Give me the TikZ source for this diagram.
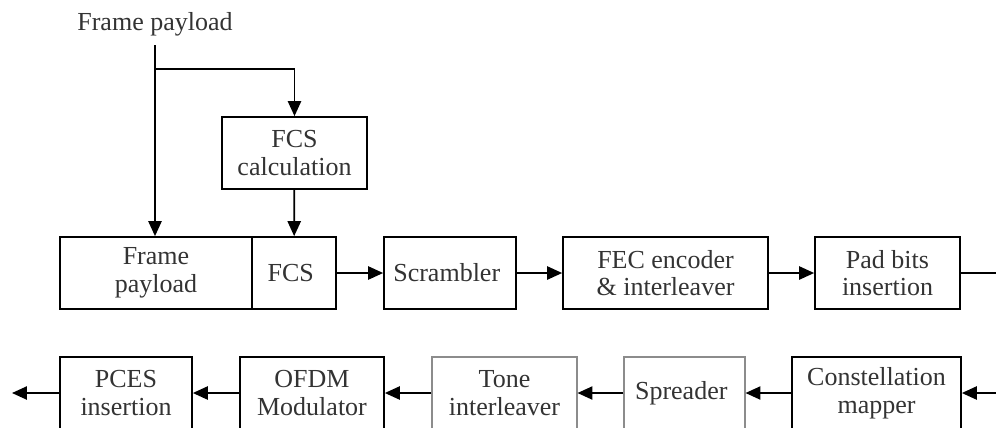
\documentclass[tikz,border=0pt]{standalone}
\usepackage{fontspec}
\setmainfont{Liberation Serif}
\usetikzlibrary{arrows.meta}

\begin{document}
\begin{tikzpicture}[x=0.02cm,y=-0.02cm,
    font=\fontsize{14.8}{15.8}\selectfont,
    blk/.style={draw,line width=1pt,align=center,minimum height=1.44cm,inner sep=0pt,text=black!80},
    dim/.style={blk,draw=black!45,line width=0.6pt},
    flow/.style={-{Triangle[length=8.5pt,width=7.5pt]},line width=1pt}]
            \useasboundingbox (0,0) rectangle (996,427);
            \clip (0,0) rectangle (996,427);

            \coordinate (A) at (155, 45);
            \coordinate (J) at (155, 69);
            \coordinate (R1) at (996, 273);
            \coordinate (R2) at (996, 393);
            \coordinate (L2) at (12, 393);

            \node[text=black!80] (IN) at (155, 24) { Frame payload };
            \node[blk,minimum width=2.9cm] (CALC) at (294.5, 153) { FCS\\calculation };

            % top row
            \node[blk,minimum width=3.84cm] (FP) at (156, 273) { Frame\\payload };
            \node[blk,minimum width=1.68cm] (FCS) at (294, 273) { FCS };
            \node[blk,minimum width=2.64cm] (SCR) at (450, 273) { Scrambler };
            \node[blk,minimum width=4.1cm] (FEC) at (665.5, 273) { FEC encoder\\\& interleaver };
            \node[blk,minimum width=2.9cm] (PAD) at (887.5, 273) { Pad bits\\insertion };

            % bottom row
            \node[blk,minimum width=2.64cm] (PCES) at (126, 393) { PCES\\insertion };
            \node[blk,minimum width=2.88cm] (OFDM) at (312, 393) { OFDM\\Modulator };
            \node[dim,minimum width=2.9cm] (TONE) at (504.5, 393) { Tone\\interleaver };
            \node[dim,minimum width=2.42cm] (SPR) at (684.5, 393) { Spreader };
            \node[blk,minimum width=3.38cm] (MAP) at (876.5, 393) { Constellation\\mapper };

            \draw[flow] (A) -- (FP.north -| A);
            \draw[flow] (J) -| (CALC.north);
            \draw[flow] (CALC) -- (FCS);
            \draw[flow] (FCS) -- (SCR);
            \draw[flow] (SCR) -- (FEC);
            \draw[flow] (FEC) -- (PAD);
            \draw[line width=1pt] (PAD) -- (R1);

            \draw[flow] (R2) -- (MAP);
            \draw[flow] (MAP) -- (SPR);
            \draw[flow] (SPR) -- (TONE);
            \draw[flow] (TONE) -- (OFDM);
            \draw[flow] (OFDM) -- (PCES);
            \draw[flow] (PCES) -- (L2);

        \end{tikzpicture}
\end{document}
